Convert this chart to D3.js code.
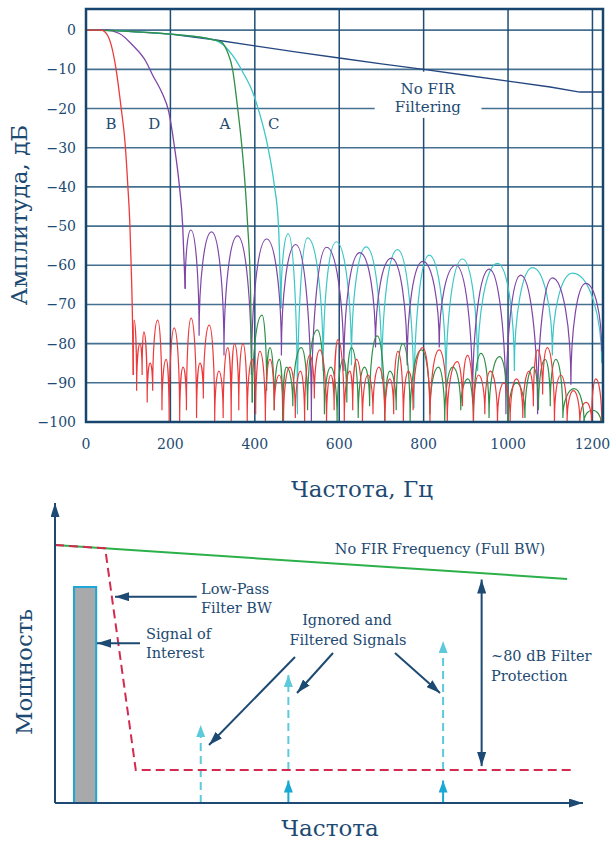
<!DOCTYPE html>
<html>
<head>
<meta charset="utf-8">
<script src="https://cdn.jsdelivr.net/npm/d3@7"></script>
<style>
  body { margin: 0; background: #fff; }
  text { font-family: "DejaVu Serif", "Liberation Serif", serif; fill: #1d4a72; }
</style>
</head>
<body>
<div id="container"></div>
<script>
// ---- top chart data (frequency in Hz, amplitude in dB) ----
const freqTicks = [0, 200, 400, 600, 800, 1000, 1200];
const dbTicks = [0, -10, -20, -30, -40, -50, -60, -70, -80, -90, -100];

const noFirFreq = [0, 50, 100, 200, 300, 400, 500, 600, 700, 800, 900, 1000, 1100, 1170, 1225];
const noFirDb   = [0, 0, -0.3, -1, -2.4, -4, -5.6, -7.1, -8.6, -10, -11.5, -13, -14.5, -15.8, -15.8];

// filter B (red)
const bTrans = [[0,0],[36,0],[51,-1.3],[71,-9.8],[83,-19.6],[93,-29.3],[99,-39.5],[104,-49.7],[107,-60],[110,-73],[112,-88]];
const bStop = [[112,-88],[114,-74],[120,-92],[128,-80],[133,-88],[137,-77],[145,-95],[152,-85],[158,-92],[170,-74],
  [180,-97],[190,-84],[197,-100],[209,-76],[222,-100],[230,-86],[238,-97],[249,-73.5],[262,-99],[270,-85],
  [278,-94],[292,-75.3],[305,-100],[315,-87],[325,-99],[336,-81],[344,-100],[352,-80],[362,-97],[372,-80],
  [382,-100],[394,-84],[402,-98],[412,-82],[425,-100],[436,-84],[446,-97],[458,-88],[468,-100],[483,-86],
  [496,-99],[508,-87],[518,-100],[530,-83],[541,-94],[554,-81.6],[570,-100],[580,-88],[588,-97],[597,-79],
  [612,-100],[625,-87],[632,-97],[641,-84],[655,-100],[668,-88],[680,-98],[694,-86],[708,-100],[720,-89],
  [729,-98],[739,-82],[752,-100],[764,-87],[775,-97],[798,-81],[815,-100],[837,-81.6],[856,-100],[880,-84.6],
  [892,-96],[904,-83],[918,-100],[930,-88],[945,-98],[958,-87],[975,-100],[990,-90],[1005,-100],[1020,-89],
  [1035,-99],[1050,-87],[1060,-96],[1070,-81.6],[1082,-93],[1093,-81],[1110,-100],[1125,-88],[1140,-100],[1155,-92],
  [1170,-100],[1185,-95],[1198,-100],[1208,-89],[1222,-100]];

// filter D (purple)
const dTrans = [[0,0],[47,0],[79,-0.85],[110,-3.8],[142,-8],[158,-11.5],[180,-16],[196,-20.8],[209,-29.3],[221,-39.5],[229,-49.7],[235,-66]];
const dStop = [[235,-66],[248.5,-51],[268,-78],[297.5,-51.5],[327,-83],[359,-52.5],[392,-88],[428,-53.3],[463,-83],[497,-54.7],
  [534,-100],[570,-55.4],[611,-87],[648.5,-56.8],[686,-81],[723.5,-58.2],[761,-85.5],[798,-59],[837,-81],[876.5,-60],
  [916,-95],[955.5,-61],[995,-98],[1030,-62.5],[1070,-98],[1105,-63.2],[1149,-90.5],[1184,-64.6],[1222,-82]];

// filter A (green)
const aTrans = [[0,0],[100,-0.3],[200,-1],[300,-2.4],[320,-3],[335,-5.5],[347,-9.8],[359,-19.6],[369,-29.3],[377,-39.5],[383,-49.7],[390,-67],[394,-95]];
const aStop = [[394,-95],[417,-72.7],[428,-92],[436,-81],[446,-97],[458,-84],[466,-100],[475,-86],[490,-96],[510,-81],
  [525,-97],[548,-76.5],[565,-98],[580,-86],[595,-100],[610,-84],[618,-95],[629,-81],[645,-99],[660,-86],
  [672,-96],[690,-78],[708,-100],[720,-87],[735,-97],[751,-80],[768,-100],[795,-81.6],[815,-98],[835,-86],
  [850,-100],[869,-86],[888,-97],[905,-89],[918,-100],[936,-82.5],[955,-99],[980,-83.3],[1000,-100],[1020,-90],
  [1040,-99],[1060,-86],[1072,-97],[1088,-84],[1100,-96],[1113,-84],[1130,-99],[1157,-91.5],[1180,-100],[1200,-97],[1220,-100]];

// filter C (cyan)
const cTrans = [[0,0],[100,-0.3],[200,-1],[300,-2.4],[315,-3],[347,-6.4],[371,-10.6],[394.5,-15.7],[410,-20.8],[430,-29.3],[446,-39.5],[456,-49.7],[462,-71]];
const cStop = [[462,-71],[479,-52],[501,-98],[525,-53],[562,-87],[593,-54],[629,-85.5],[664,-55.3],[701,-89],[738,-56],
  [777,-96.5],[813,-57.4],[853,-91.4],[892,-58.4],[928,-87],[975,-59.5],[1015,-87],[1058,-60.6],[1105,-83],[1153,-62],[1222,-85]];

const filterNames = ["B", "D", "A", "C"];
const filterLabelFreq = [59, 162, 329, 445];

// ---- bottom diagram data (schematic units 0..100) ----
const noFirLevel = [[0, 86], [97, 74.7]];
const lpfEdge = [[0, 86], [9.5, 84.9], [15.3, 11], [97.7, 11]];
const signalBand = [3.6, 7.8];
const signalLevel = 72;
const spurFreq = [27.6, 44.2, 73.5];
const spurLevel = [26, 42.7, 54];
const spurPassed = [false, true, true];
const filterFloor = 11;
const protectionFreq = 80.8;

const w = 612, h = 843;
const navy = "#1d4a72";

let svg = d3.select("#container").append("svg")
  .attr("width", w).attr("height", h)
  .style("background-color", "#fff");

let defs = svg.append("defs");
function marker(id, color, len, wid) {
  defs.append("marker").attr("id", id)
    .attr("viewBox", `0 0 ${len} ${wid}`)
    .attr("refX", len).attr("refY", wid / 2)
    .attr("markerWidth", len).attr("markerHeight", wid)
    .attr("markerUnits", "userSpaceOnUse")
    .attr("orient", "auto-start-reverse")
    .append("path").attr("d", `M0,0L${len},${wid / 2}L0,${wid}Z`).attr("fill", color);
}
marker("navyHead", navy, 14, 9);
marker("cyanHead", "#1aa8d4", 12, 9);
marker("lightHead", "#5fc9dc", 12, 9);

// ================= TOP CHART =================
const x = d3.scaleLinear().domain([0, 1225]).range([86, 603]);
const y = d3.scaleLinear().domain([5.4, -100]).range([9, 422]);

svg.append("clipPath").attr("id", "plotClip").append("rect")
  .attr("x", 86).attr("y", 9).attr("width", 517).attr("height", 413);

let grid = svg.append("g");
grid.selectAll(".hg").data(dbTicks.filter(d => d > -100)).join("line")
  .attr("x1", x(0)).attr("x2", x(1225)).attr("y1", d => y(d)).attr("y2", d => y(d))
  .attr("stroke", "#45708f").attr("stroke-width", 1.6);
grid.selectAll(".vg").data(freqTicks.filter(d => d > 0)).join("line")
  .attr("x1", d => x(d)).attr("x2", d => x(d)).attr("y1", y(5.4)).attr("y2", y(-100))
  .attr("stroke", "#1f4d75").attr("stroke-width", 1.5);

// label box for "No FIR Filtering"
svg.append("rect").attr("x", x(684)).attr("y", y(-10.6))
  .attr("width", x(937) - x(684)).attr("height", y(-22.4) - y(-10.6)).attr("fill", "#fff");
svg.append("text").attr("x", x(810)).attr("y", y(-16.2)).attr("text-anchor", "middle")
  .attr("font-size", 15).text("No FIR");
svg.append("text").attr("x", x(810)).attr("y", y(-20.8)).attr("text-anchor", "middle")
  .attr("font-size", 15).text("Filtering");

// curve labels
svg.selectAll(".flab").data(filterNames).join("text")
  .attr("x", (d, i) => x(filterLabelFreq[i])).attr("y", y(-25.1))
  .attr("text-anchor", "middle").attr("font-size", 15).text(d => d);

let curves = svg.append("g").attr("clip-path", "url(#plotClip)").attr("fill", "none");

const transLine = d3.line().x(d => x(d[0])).y(d => y(d[1])).curve(d3.curveMonotoneX);

// stopband lobes: alternating null / peak points drawn as arches
function lobes(pts) {
  const p = d3.path();
  p.moveTo(x(pts[0][0]), y(pts[0][1]));
  for (let i = 1; i < pts.length; i++) {
    const x0 = x(pts[i - 1][0]), y0 = y(pts[i - 1][1]);
    const x1 = x(pts[i][0]), y1 = y(pts[i][1]);
    const k = 0.55;
    if (i % 2 === 1) {
      p.bezierCurveTo(x0, y0 + (y1 - y0) * k, x1 - (x1 - x0) * k, y1, x1, y1);
    } else {
      p.bezierCurveTo(x0 + (x1 - x0) * k, y0, x1, y1 - (y1 - y0) * k, x1, y1);
    }
  }
  return p.toString();
}

curves.append("path")
  .attr("d", d3.line().x((d, i) => x(noFirFreq[i])).y(d => y(d))(noFirDb))
  .attr("stroke", "#24477f").attr("stroke-width", 1.4);

const filters = [
  { trans: cTrans, stop: cStop, color: "#3cc6c6" },
  { trans: dTrans, stop: dStop, color: "#7d45a6" },
  { trans: aTrans, stop: aStop, color: "#2f8f47" },
  { trans: bTrans, stop: bStop, color: "#ec3a3c" }
];
filters.forEach(f => {
  curves.append("path").attr("d", transLine(f.trans)).attr("stroke", f.color).attr("stroke-width", 1.3);
  curves.append("path").attr("d", lobes(f.stop)).attr("stroke", f.color).attr("stroke-width", 1.2);
});

// frame
svg.append("rect").attr("x", 86).attr("y", 9).attr("width", 517).attr("height", 413)
  .attr("fill", "none").attr("stroke", "#17456e").attr("stroke-width", 2.5);

// ticks
svg.selectAll(".ytl").data(dbTicks).join("text")
  .attr("x", 76).attr("y", d => y(d) + 5).attr("text-anchor", "end")
  .attr("font-size", 14).text(d => d3.format("d")(d));
svg.selectAll(".xtl").data(freqTicks).join("text")
  .attr("x", d => x(d)).attr("y", 449).attr("text-anchor", "middle")
  .attr("font-size", 14).text(d => d);

svg.append("text").attr("transform", "translate(27,215) rotate(-90)")
  .attr("text-anchor", "middle").attr("font-size", 23).text("Амплитуда, дБ");
svg.append("text").attr("x", 362).attr("y", 497)
  .attr("text-anchor", "middle").attr("font-size", 23).text("Частота, Гц");

// ================= BOTTOM DIAGRAM =================
const xd = d3.scaleLinear().domain([0, 100]).range([55, 583]);
const yd = d3.scaleLinear().domain([0, 100]).range([803, 503]);
let diag = svg.append("g");

// signal of interest
diag.append("rect").attr("x", xd(signalBand[0])).attr("y", yd(signalLevel))
  .attr("width", xd(signalBand[1]) - xd(signalBand[0])).attr("height", yd(0) - yd(signalLevel))
  .attr("fill", "#a7a9ab").attr("stroke", "#1ea7d6").attr("stroke-width", 2);

// no-FIR level
diag.append("path").attr("d", d3.line().x(d => xd(d[0])).y(d => yd(d[1]))(noFirLevel))
  .attr("stroke", "#2bb04a").attr("stroke-width", 2).attr("fill", "none");

// spurs
spurFreq.forEach((f, i) => {
  diag.append("line").attr("x1", xd(f)).attr("x2", xd(f))
    .attr("y1", yd(spurPassed[i] ? filterFloor : 0)).attr("y2", yd(spurLevel[i]))
    .attr("stroke", "#5fc9dc").attr("stroke-width", 2).attr("stroke-dasharray", "8,5")
    .attr("marker-end", "url(#lightHead)");
  if (spurPassed[i]) {
    diag.append("line").attr("x1", xd(f)).attr("x2", xd(f))
      .attr("y1", yd(0)).attr("y2", yd(filterFloor - 3.5))
      .attr("stroke", "#1aa8d4").attr("stroke-width", 2)
      .attr("marker-end", "url(#cyanHead)");
  }
});

// low-pass filter edge
diag.append("path").attr("d", d3.line().x(d => xd(d[0])).y(d => yd(d[1]))(lpfEdge))
  .attr("stroke", "#d42a4f").attr("stroke-width", 2).attr("fill", "none")
  .attr("stroke-dasharray", "9,5");

// protection double arrow
diag.append("line").attr("x1", xd(protectionFreq)).attr("x2", xd(protectionFreq))
  .attr("y1", yd(74.5)).attr("y2", yd(filterFloor + 1.3))
  .attr("stroke", navy).attr("stroke-width", 2)
  .attr("marker-start", "url(#navyHead)").attr("marker-end", "url(#navyHead)");

// axes
diag.append("line").attr("x1", xd(0)).attr("x2", xd(0)).attr("y1", yd(0)).attr("y2", yd(100))
  .attr("stroke", navy).attr("stroke-width", 2).attr("marker-end", "url(#navyHead)");
diag.append("line").attr("x1", xd(0)).attr("x2", xd(100)).attr("y1", yd(0)).attr("y2", yd(0))
  .attr("stroke", navy).attr("stroke-width", 2).attr("marker-end", "url(#navyHead)");

// annotation arrows
const notes = [
  [[196.7, 596.7], [115, 596.7]],
  [[140, 643.3], [97, 643.3]],
  [[295, 657], [209, 745]],
  [[333, 653], [297, 693]],
  [[395, 653], [440, 693]]
];
notes.forEach(n => {
  diag.append("line").attr("x1", n[0][0]).attr("y1", n[0][1]).attr("x2", n[1][0]).attr("y2", n[1][1])
    .attr("stroke", navy).attr("stroke-width", 2).attr("marker-end", "url(#navyHead)");
});

const labels = [
  ["No FIR Frequency (Full BW)", 440, 554, "middle"],
  ["Low-Pass", 201, 594, "start"],
  ["Filter BW", 201, 613, "start"],
  ["Signal of", 146, 639, "start"],
  ["Interest", 146, 658, "start"],
  ["Ignored and", 347, 625, "middle"],
  ["Filtered Signals", 348, 645, "middle"],
  ["~80 dB Filter", 491, 661, "start"],
  ["Protection", 491, 681, "start"]
];
labels.forEach(l => {
  diag.append("text").attr("x", l[1]).attr("y", l[2]).attr("text-anchor", l[3])
    .attr("font-size", 14.5).text(l[0]);
});

svg.append("text").attr("transform", "translate(32,672) rotate(-90)")
  .attr("text-anchor", "middle").attr("font-size", 23).text("Мощность");
svg.append("text").attr("x", 330).attr("y", 836)
  .attr("text-anchor", "middle").attr("font-size", 23).text("Частота");
</script>
</body>
</html>
